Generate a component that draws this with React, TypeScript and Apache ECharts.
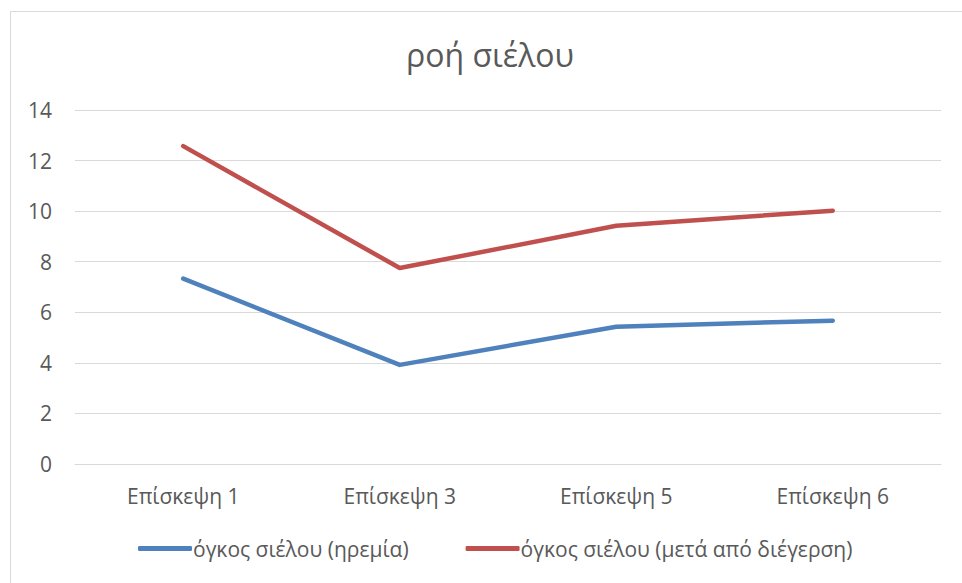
import React, { useEffect, useRef } from "react";
import * as echarts from "echarts";

const categories = ["Επίσκεψη 1", "Επίσκεψη 3", "Επίσκεψη 5", "Επίσκεψη 6"];
const restValues = [7.33, 3.92, 5.43, 5.67];
const stimValues = [12.57, 7.75, 9.42, 10.02];
const seriesNames = ["όγκος σιέλου (ηρεμία)", "όγκος σιέλου (μετά από διέγερση)"];
const yTicks = { min: 0, max: 14, interval: 2 };

const FONT = "'Open Sans', 'Noto Sans', sans-serif";
const TEXT = "#595959";

export default function App() {
  const ref = useRef<HTMLDivElement>(null);
  useEffect(() => {
    document.body.style.margin = "0";
    const chart = echarts.init(ref.current!, null, { renderer: "svg" });
    chart.setOption({
      animation: false,
      backgroundColor: "#ffffff",
      title: {
        text: "ροή σιέλου",
        left: 485,
        textAlign: "center",
        top: 33,
        textStyle: { fontFamily: FONT, fontSize: 32, fontWeight: "normal", color: TEXT },
      },
      graphic: [
        {
          type: "rect",
          shape: { x: 10.5, y: 11.5, width: 980, height: 600 },
          style: { fill: "none", stroke: "#d9d9d9", lineWidth: 1 },
          silent: true,
        },
      ],
      grid: { left: 75, right: 21, top: 110, bottom: 119, containLabel: false },
      xAxis: {
        type: "category",
        data: categories,
        boundaryGap: true,
        axisLine: { show: true, lineStyle: { color: "#d9d9d9", width: 1 } },
        axisTick: { show: false },
        axisLabel: { color: TEXT, fontFamily: FONT, fontSize: 21, margin: 21 },
      },
      yAxis: {
        type: "value",
        min: yTicks.min,
        max: yTicks.max,
        interval: yTicks.interval,
        axisLine: { show: false },
        axisTick: { show: false },
        splitLine: { lineStyle: { color: "#d9d9d9", width: 1 } },
        axisLabel: { color: TEXT, fontFamily: FONT, fontSize: 21, margin: 23 },
      },
      legend: {
        bottom: 19,
        left: 133,
        itemWidth: 54,
        itemHeight: 5,
        itemGap: 57,
        icon: "roundRect",
        textStyle: { color: TEXT, fontFamily: FONT, fontSize: 21, padding: [0, 0, 0, -4] },
        data: seriesNames,
      },
      series: [
        {
          name: seriesNames[0],
          type: "line",
          data: restValues,
          symbol: "none",
          lineStyle: { color: "#4f81bd", width: 4.5, cap: "round", join: "round" },
          itemStyle: { color: "#4f81bd" },
        },
        {
          name: seriesNames[1],
          type: "line",
          data: stimValues,
          symbol: "none",
          lineStyle: { color: "#c0504d", width: 4.5, cap: "round", join: "round" },
          itemStyle: { color: "#c0504d" },
        },
      ],
    });
    return () => chart.dispose();
  }, []);
  return <div ref={ref} style={{ position: "absolute", left: 0, top: 0, width: 962, height: 583 }} />;
}
